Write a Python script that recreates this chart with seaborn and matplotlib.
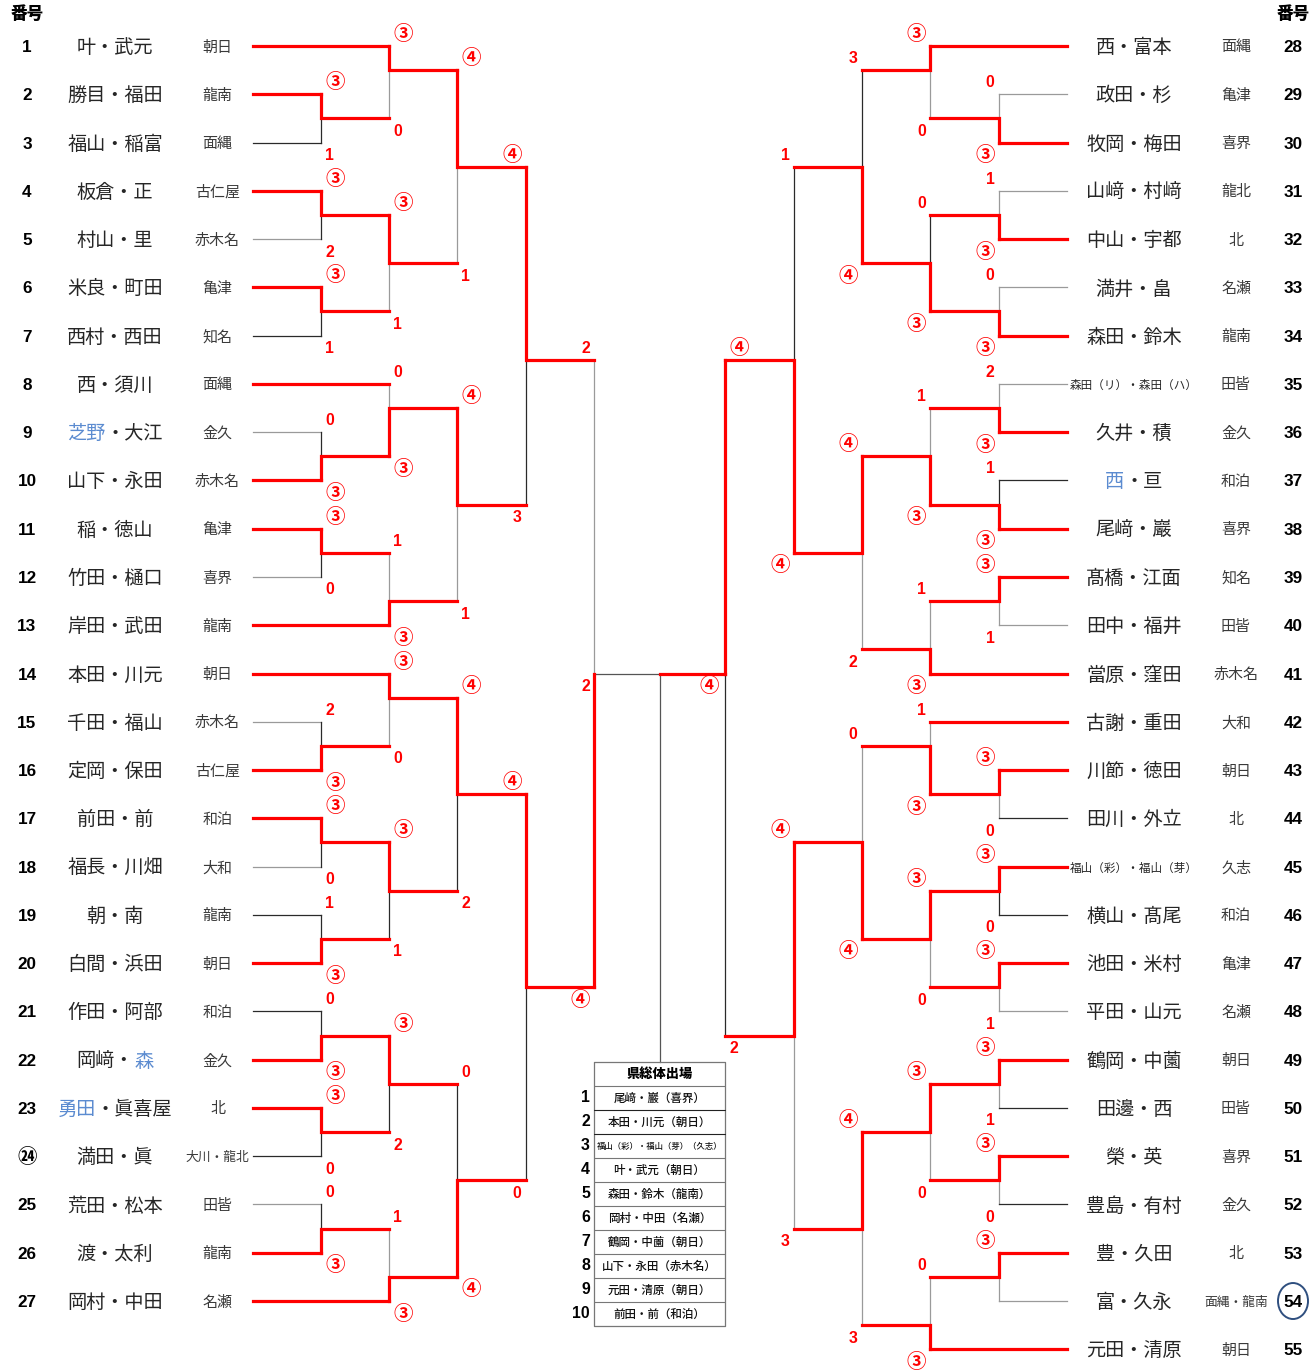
import matplotlib
matplotlib.use("Agg")
import matplotlib.pyplot as plt
from matplotlib import font_manager as fm
from matplotlib.patches import Ellipse
import pandas as pd
import seaborn as sns

# ---------------- data ----------------
header_label = "番号"

left_numbers = [str(i) for i in range(1, 24)] + ["㉔", "25", "26", "27"]
left_names = ["叶・武元", "勝目・福田", "福山・稲富", "板倉・正", "村山・里", "米良・町田", "西村・西田",
              "西・須川", "[芝野]・大江", "山下・永田", "稲・徳山", "竹田・樋口", "岸田・武田",
              "本田・川元", "千田・福山", "定岡・保田", "前田・前", "福長・川畑", "朝・南", "白間・浜田",
              "作田・阿部", "岡﨑・[森]", "[勇田]・眞喜屋", "満田・眞", "荒田・松本", "渡・太利", "岡村・中田"]
left_schools = ["朝日", "龍南", "面縄", "古仁屋", "赤木名", "亀津", "知名", "面縄", "金久", "赤木名", "亀津",
                "喜界", "龍南", "朝日", "赤木名", "古仁屋", "和泊", "大和", "龍南", "朝日", "和泊", "金久",
                "北", "大川・龍北", "田皆", "龍南", "名瀬"]
left_loser_tone = "kkkkgkkkgkkgkkgkkgkkkkkkgkk"

right_numbers = [str(n) for n in range(28, 56)]
right_names = ["西・富本", "政田・杉", "牧岡・梅田", "山﨑・村﨑", "中山・宇都", "満井・畠", "森田・鈴木",
               "森田（リ）・森田（ハ）", "久井・積", "[西]・亘", "尾﨑・巖", "髙橋・江面", "田中・福井",
               "當原・窪田", "古謝・重田", "川節・徳田", "田川・外立", "福山（彩）・福山（芽）", "横山・髙尾",
               "池田・米村", "平田・山元", "鶴岡・中薗", "田邊・西", "榮・英", "豊島・有村", "豊・久田",
               "富・久永", "元田・清原"]
right_schools = ["面縄", "亀津", "喜界", "龍北", "北", "名瀬", "龍南", "田皆", "金久", "和泊", "喜界", "知名",
                 "田皆", "赤木名", "大和", "朝日", "北", "久志", "和泊", "亀津", "名瀬", "朝日", "田皆", "喜界",
                 "金久", "北", "面縄・龍南", "朝日"]
right_loser_tone = "kgkgkgkgkkkkgkkkkkkkgkkkkkgk"
circled_number = "54"

# (round, top row, bottom row, joint row, winner, loser tone, top score, bottom score)
left_matches = [
    (1, 2, 3, 2.5, "t", "k", "③", "1"),
    (1, 4, 5, 4.5, "t", "k", "③", "2"),
    (1, 6, 7, 6.5, "t", "k", "③", "1"),
    (1, 9, 10, 9.5, "b", "k", "0", "③"),
    (1, 11, 12, 11.5, "t", "k", "③", "0"),
    (1, 15, 16, 15.5, "b", "k", "2", "③"),
    (1, 17, 18, 17.5, "t", "k", "③", "0"),
    (1, 19, 20, 19.5, "b", "k", "1", "③"),
    (1, 21, 22, 21.5, "b", "k", "0", "③"),
    (1, 23, 24, 23.5, "t", "k", "③", "0"),
    (1, 25, 26, 25.5, "b", "k", "0", "③"),
    (2, 1, 2.5, 1.5, "t", "g", "③", "0"),
    (2, 4.5, 6.5, 5.5, "t", "g", "③", "1"),
    (2, 8, 9.5, 8.5, "b", "g", "0", "③"),
    (2, 11.5, 13, 12.5, "b", "g", "1", "③"),
    (2, 14, 15.5, 14.5, "t", "g", "③", "0"),
    (2, 17.5, 19.5, 18.5, "t", "k", "③", "1"),
    (2, 21.5, 23.5, 22.5, "t", "k", "③", "2"),
    (2, 25.5, 27, 26.5, "b", "g", "1", "③"),
    (3, 1.5, 5.5, 3.5, "t", "g", "④", "1"),
    (3, 8.5, 12.5, 10.5, "t", "g", "④", "1"),
    (3, 14.5, 18.5, 16.5, "t", "k", "④", "2"),
    (3, 22.5, 26.5, 24.5, "b", "k", "0", "④"),
    (4, 3.5, 10.5, 7.5, "t", "k", "④", "3"),
    (4, 16.5, 24.5, 20.5, "t", "k", "④", "0"),
    (5, 7.5, 20.5, 14, "b", "g", "2", "④"),
]
right_matches = [
    (1, 2, 3, 2.5, "b", "g", "0", "③"),
    (1, 4, 5, 4.5, "b", "g", "1", "③"),
    (1, 6, 7, 6.5, "b", "g", "0", "③"),
    (1, 8, 9, 8.5, "b", "g", "2", "③"),
    (1, 10, 11, 10.5, "b", "k", "1", "③"),
    (1, 12, 13, 12.5, "t", "g", "③", "1"),
    (1, 16, 17, 16.5, "t", "g", "③", "0"),
    (1, 18, 19, 18.5, "t", "k", "③", "0"),
    (1, 20, 21, 20.5, "t", "g", "③", "1"),
    (1, 22, 23, 22.5, "t", "g", "③", "1"),
    (1, 24, 25, 24.5, "t", "g", "③", "0"),
    (1, 26, 27, 26.5, "t", "g", "③", ""),
    (2, 1, 2.5, 1.5, "t", "g", "③", "0"),
    (2, 4.5, 6.5, 5.5, "b", "k", "0", "③"),
    (2, 8.5, 10.5, 9.5, "b", "g", "1", "③"),
    (2, 12.5, 14, 13.5, "b", "g", "1", "③"),
    (2, 15, 16.5, 15.5, "b", "g", "1", "③"),
    (2, 18.5, 20.5, 19.5, "t", "g", "③", "0"),
    (2, 22.5, 24.5, 23.5, "t", "g", "③", "0"),
    (2, 26.5, 28, 27.5, "b", "g", "0", "③"),
    (3, 1.5, 5.5, 3.5, "b", "k", "3", "④"),
    (3, 9.5, 13.5, 11.5, "t", "g", "④", "2"),
    (3, 15.5, 19.5, 17.5, "b", "g", "0", "④"),
    (3, 23.5, 27.5, 25.5, "t", "g", "④", "3"),
    (4, 3.5, 11.5, 7.5, "b", "k", "1", "④"),
    (4, 17.5, 25.5, 21.5, "t", "g", "④", "3"),
    (5, 7.5, 21.5, 14, "t", "k", "④", "2"),
]
final_scores = ["2", "④"]
final_winner = "R"

table_title = "県総体出場"
table_ranks = [str(i) for i in range(1, 11)]
table_entries = ["尾﨑・巖（喜界）", "本田・川元（朝日）", "福山（彩）・福山（芽）（久志）", "叶・武元（朝日）",
                 "森田・鈴木（龍南）", "岡村・中田（名瀬）", "鶴岡・中薗（朝日）", "山下・永田（赤木名）",
                 "元田・清原（朝日）", "前田・前（和泊）"]

# ---------------- layout ----------------
W, H = 1312, 1370
ROW0, ROW_H = 46.0, 48.27
PX = 0.72  # pt per px at dpi 100
LX = [253, 321, 389, 457, 525.5, 594]
RX = [1067, 998.5, 930, 861.5, 793.5, 725]
CX = 659.5
TABLE_TOP = 1 + (1062 - ROW0) / ROW_H
TABLE_ROW = 24.0 / ROW_H
ABOVE, BELOW = -11.5 / ROW_H, 13.0 / ROW_H
TXT_DY = 1.5 / ROW_H

sns.set_theme(style="white")
avail = {f.name for f in fm.fontManager.ttflist}
CJK = "Noto Sans CJK JP"
NARROW = "Liberation Sans Narrow" if "Liberation Sans Narrow" in avail else "Liberation Sans"
NUM_SCALE = 1.0 if NARROW == "Liberation Sans Narrow" else 0.88
plt.rcParams["font.family"] = [CJK, "DejaVu Sans"]

RED = "#ff0000"
TONE = {"k": "#2a2a2a", "g": "#9a9a9a", "d": "#555555", "win": RED}
BLUE = "#5b8bd0"

fig = plt.figure(figsize=(W / 100, H / 100), dpi=100)
ax = fig.add_axes([0, 0, 1, 1])

# ---------------- bracket segments ----------------
rows = []
sid = [0]


def add(points, kind):
    for x, y in points:
        rows.append((sid[0], x, y, kind))
    sid[0] += 1


for X, n, tones, matches in [(LX, len(left_names), left_loser_tone, left_matches),
                             (RX, len(right_names), right_loser_tone, right_matches)]:
    played, winners = set(), set()
    for lv, t, b, j, w, tone, st, sb in matches:
        if lv == 1:
            played.update([t, b])
            winners.add(t if w == "t" else b)
    for i in range(n):
        r = i + 1
        if r not in played:
            add([(X[0], r), (X[2], r)], "win")
        else:
            add([(X[0], r), (X[1], r)], "win" if r in winners else tones[i])
    for lv, t, b, j, w, tone, st, sb in matches:
        wr, lr = (t, b) if w == "t" else (b, t)
        pts = [(X[lv], wr), (X[lv], j)]
        if lv < 5:
            pts.append((X[lv + 1], j))
        add(pts, "win")
        add([(X[lv], lr), (X[lv], j)], tone)

final_row = 14
add([(LX[5], final_row), (CX, final_row)], "win" if final_winner == "L" else "d")
add([(RX[5], final_row), (CX, final_row)], "win" if final_winner == "R" else "d")
add([(CX, final_row), (CX, TABLE_TOP)], "d")

df = pd.DataFrame(rows, columns=["seg", "x", "y", "kind"])
for kind, lw in [("g", 0.9), ("k", 0.9), ("d", 0.9), ("win", 2.3)]:
    sub = df[df["kind"] == kind]
    if len(sub):
        sns.lineplot(data=sub, x="x", y="y", units="seg", estimator=None, sort=False,
                     color=TONE[kind], linewidth=lw, ax=ax, legend=False,
                     solid_capstyle="projecting", solid_joinstyle="miter")


# ---------------- score labels ----------------
def score(x, y, s, ha):
    if not s:
        return
    if s in "①②③④⑤":
        ax.text(x, y, s, ha=ha, va="center", color=RED, fontsize=14, fontweight="bold", family=CJK)
    else:
        ax.text(x, y, s, ha=ha, va="center", color=RED, fontsize=13 * NUM_SCALE, fontweight="bold",
                family=NARROW)


for X, matches, side in [(LX, left_matches, "L"), (RX, right_matches, "R")]:
    for lv, t, b, j, w, tone, st, sb in matches:
        inner = lv <= 3 if side == "L" else lv == 5
        if inner:
            xl, ha = X[lv] + 4, "left"
        else:
            xl, ha = X[lv] - 4, "right"
        score(xl, t + ABOVE, st, ha)
        score(xl, b + BELOW, sb, ha)

score(LX[5] - 4, final_row + BELOW, final_scores[0], "right")
score(RX[5] - 6, final_row + BELOW, final_scores[1], "right")


# ---------------- names ----------------
def draw_name(cx, r, name, size_px):
    parts, buf, blue = [], "", False
    for ch in name:
        if ch in "[]":
            if buf:
                parts.append((buf, blue))
            buf, blue = "", ch == "["
        else:
            buf += ch
    if buf:
        parts.append((buf, blue))
    plain = "".join(p for p, _ in parts)
    if len(parts) == 1:
        ax.text(cx, r, plain, ha="center", va="center", fontsize=size_px * PX, color="#262626", family=CJK)
        return
    x = cx - len(plain) * size_px / 2
    for p, b in parts:
        ax.text(x, r, p, ha="left", va="center", fontsize=size_px * PX,
                color=BLUE if b else "#262626", family=CJK)
        x += len(p) * size_px


def draw_side(numbers, names, schools, xnum, xname, xschool):
    for i, (num, nm, sc) in enumerate(zip(numbers, names, schools)):
        r = i + 1 + TXT_DY
        if num == "㉔":
            ax.text(xnum, r, num, ha="center", va="center", fontsize=14, fontweight="bold",
                    color="black", family=CJK)
        else:
            ax.text(xnum, r, num, ha="center", va="center", fontsize=14 * NUM_SCALE, fontweight="bold",
                    color="black", family=NARROW)
        plain_len = len(nm.replace("[", "").replace("]", ""))
        draw_name(xname, r, nm, 11.6 if plain_len > 7 else 19.2)
        ax.text(xschool, r, sc, ha="center", va="center",
                fontsize=(12.8 if len(sc) > 3 else 15) * PX, color="#3a3a3a", family=CJK)
        if num == circled_number:
            ax.add_patch(Ellipse((xnum, i + 1), 30, 36 / ROW_H, fill=False, edgecolor="#2f4f7f", lw=1.4))


draw_side(left_numbers, left_names, left_schools, 27, 115, 217.5)
draw_side(right_numbers, right_names, right_schools, 1293, 1134, 1236)

head_r = 1 + (14 - ROW0) / ROW_H
for xh in (27, 1293):
    ax.text(xh, head_r, header_label, ha="center", va="center", fontsize=12, fontweight="heavy",
            color="black", family=CJK)

# ---------------- table ----------------
tx0, tx1 = LX[5], RX[5]
nrows = len(table_entries) + 1
tbot = TABLE_TOP + nrows * TABLE_ROW
ax.plot([tx0, tx1, tx1, tx0, tx0], [TABLE_TOP, TABLE_TOP, tbot, tbot, TABLE_TOP], color="#777777", lw=0.9)
for k in range(1, nrows):
    yk = TABLE_TOP + k * TABLE_ROW
    ax.plot([tx0, tx1], [yk, yk], color="#222222" if k in (2, 3) else "#777777", lw=0.8)
tcx = (tx0 + tx1) / 2
ax.text(tcx, TABLE_TOP + TABLE_ROW / 2, table_title, ha="center", va="center", fontsize=9.5,
        fontweight="heavy", color="black", family=CJK)
for k, (rk, ent) in enumerate(zip(table_ranks, table_entries)):
    yc = TABLE_TOP + (k + 1.5) * TABLE_ROW
    fs = 6.0 if len(ent) > 12 else 8.3
    ax.text(tcx, yc, ent, ha="center", va="center", fontsize=fs, color="#111111", family=CJK,
            fontweight="medium")
    ax.text(tx0 - 4, yc, rk, ha="right", va="center", fontsize=13 * NUM_SCALE, fontweight="bold",
            color="black", family=NARROW)

ax.set_xlim(0, W)
ax.set_ylim(1 + (H - ROW0) / ROW_H, 1 + (0 - ROW0) / ROW_H)
ax.set_axis_off()
fig.savefig("out.png", dpi=100)
